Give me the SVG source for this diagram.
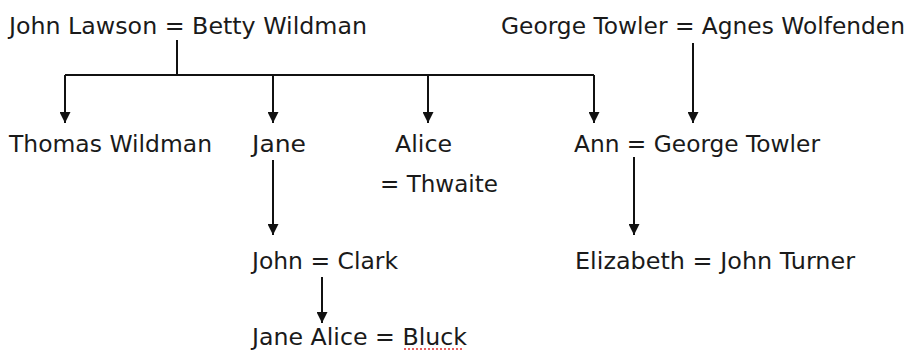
<svg xmlns="http://www.w3.org/2000/svg" width="910" height="350" viewBox="0 0 910 350">
  <style>
    text { font-family: "DejaVu Sans", Verdana, sans-serif; font-size: 23px; fill: #1a1a1a; }
    .c { stroke: #111; stroke-width: 2; fill: none; }
  </style>
  <defs>
    <marker id="ah" viewBox="0 0 10 10" refX="10" refY="5" markerWidth="6" markerHeight="5.5" orient="auto" markerUnits="strokeWidth">
      <path d="M0,0 L10,5 L0,10 z" fill="#111"/>
    </marker>
  </defs>
  <rect width="910" height="350" fill="#fff"/>

  <g id="connectors">
    <path class="c" d="M177,40 V75 M65,75 H594"/>
    <path class="c" d="M65,75 V123" marker-end="url(#ah)"/>
    <path class="c" d="M273,75 V123" marker-end="url(#ah)"/>
    <path class="c" d="M428,75 V123" marker-end="url(#ah)"/>
    <path class="c" d="M594,75 V123" marker-end="url(#ah)"/>
    <path class="c" d="M693,43 V123" marker-end="url(#ah)"/>
    <path class="c" d="M273,160 V235" marker-end="url(#ah)"/>
    <path class="c" d="M634,157 V235" marker-end="url(#ah)"/>
    <path class="c" d="M322,277 V323" marker-end="url(#ah)"/>
  </g>

  <g id="lawson-wildman"><text x="9" y="34" textLength="358" lengthAdjust="spacingAndGlyphs">John Lawson = Betty Wildman</text></g>
  <g id="towler-wolfenden"><text x="501" y="34" textLength="404" lengthAdjust="spacingAndGlyphs">George Towler = Agnes Wolfenden</text></g>
  <g id="thomas"><text x="9" y="152" textLength="203" lengthAdjust="spacingAndGlyphs">Thomas Wildman</text></g>
  <g id="jane"><text x="252" y="152" textLength="54" lengthAdjust="spacingAndGlyphs">Jane</text></g>
  <g id="alice">
    <text x="395" y="152" textLength="57" lengthAdjust="spacingAndGlyphs">Alice</text>
    <text x="380" y="192" textLength="118" lengthAdjust="spacingAndGlyphs">= Thwaite</text>
  </g>
  <g id="ann"><text x="574" y="152" textLength="246" lengthAdjust="spacingAndGlyphs">Ann = George Towler</text></g>
  <g id="john-clark"><text x="252" y="269" textLength="146" lengthAdjust="spacingAndGlyphs">John = Clark</text></g>
  <g id="elizabeth"><text x="575" y="269" textLength="280" lengthAdjust="spacingAndGlyphs">Elizabeth = John Turner</text></g>
  <g id="jane-alice"><text x="252" y="345" textLength="215" lengthAdjust="spacingAndGlyphs">Jane Alice = Bluck</text></g>
  <path d="M404,349 H463" stroke="#e03030" stroke-width="1.5" stroke-dasharray="2,2"/>
</svg>
